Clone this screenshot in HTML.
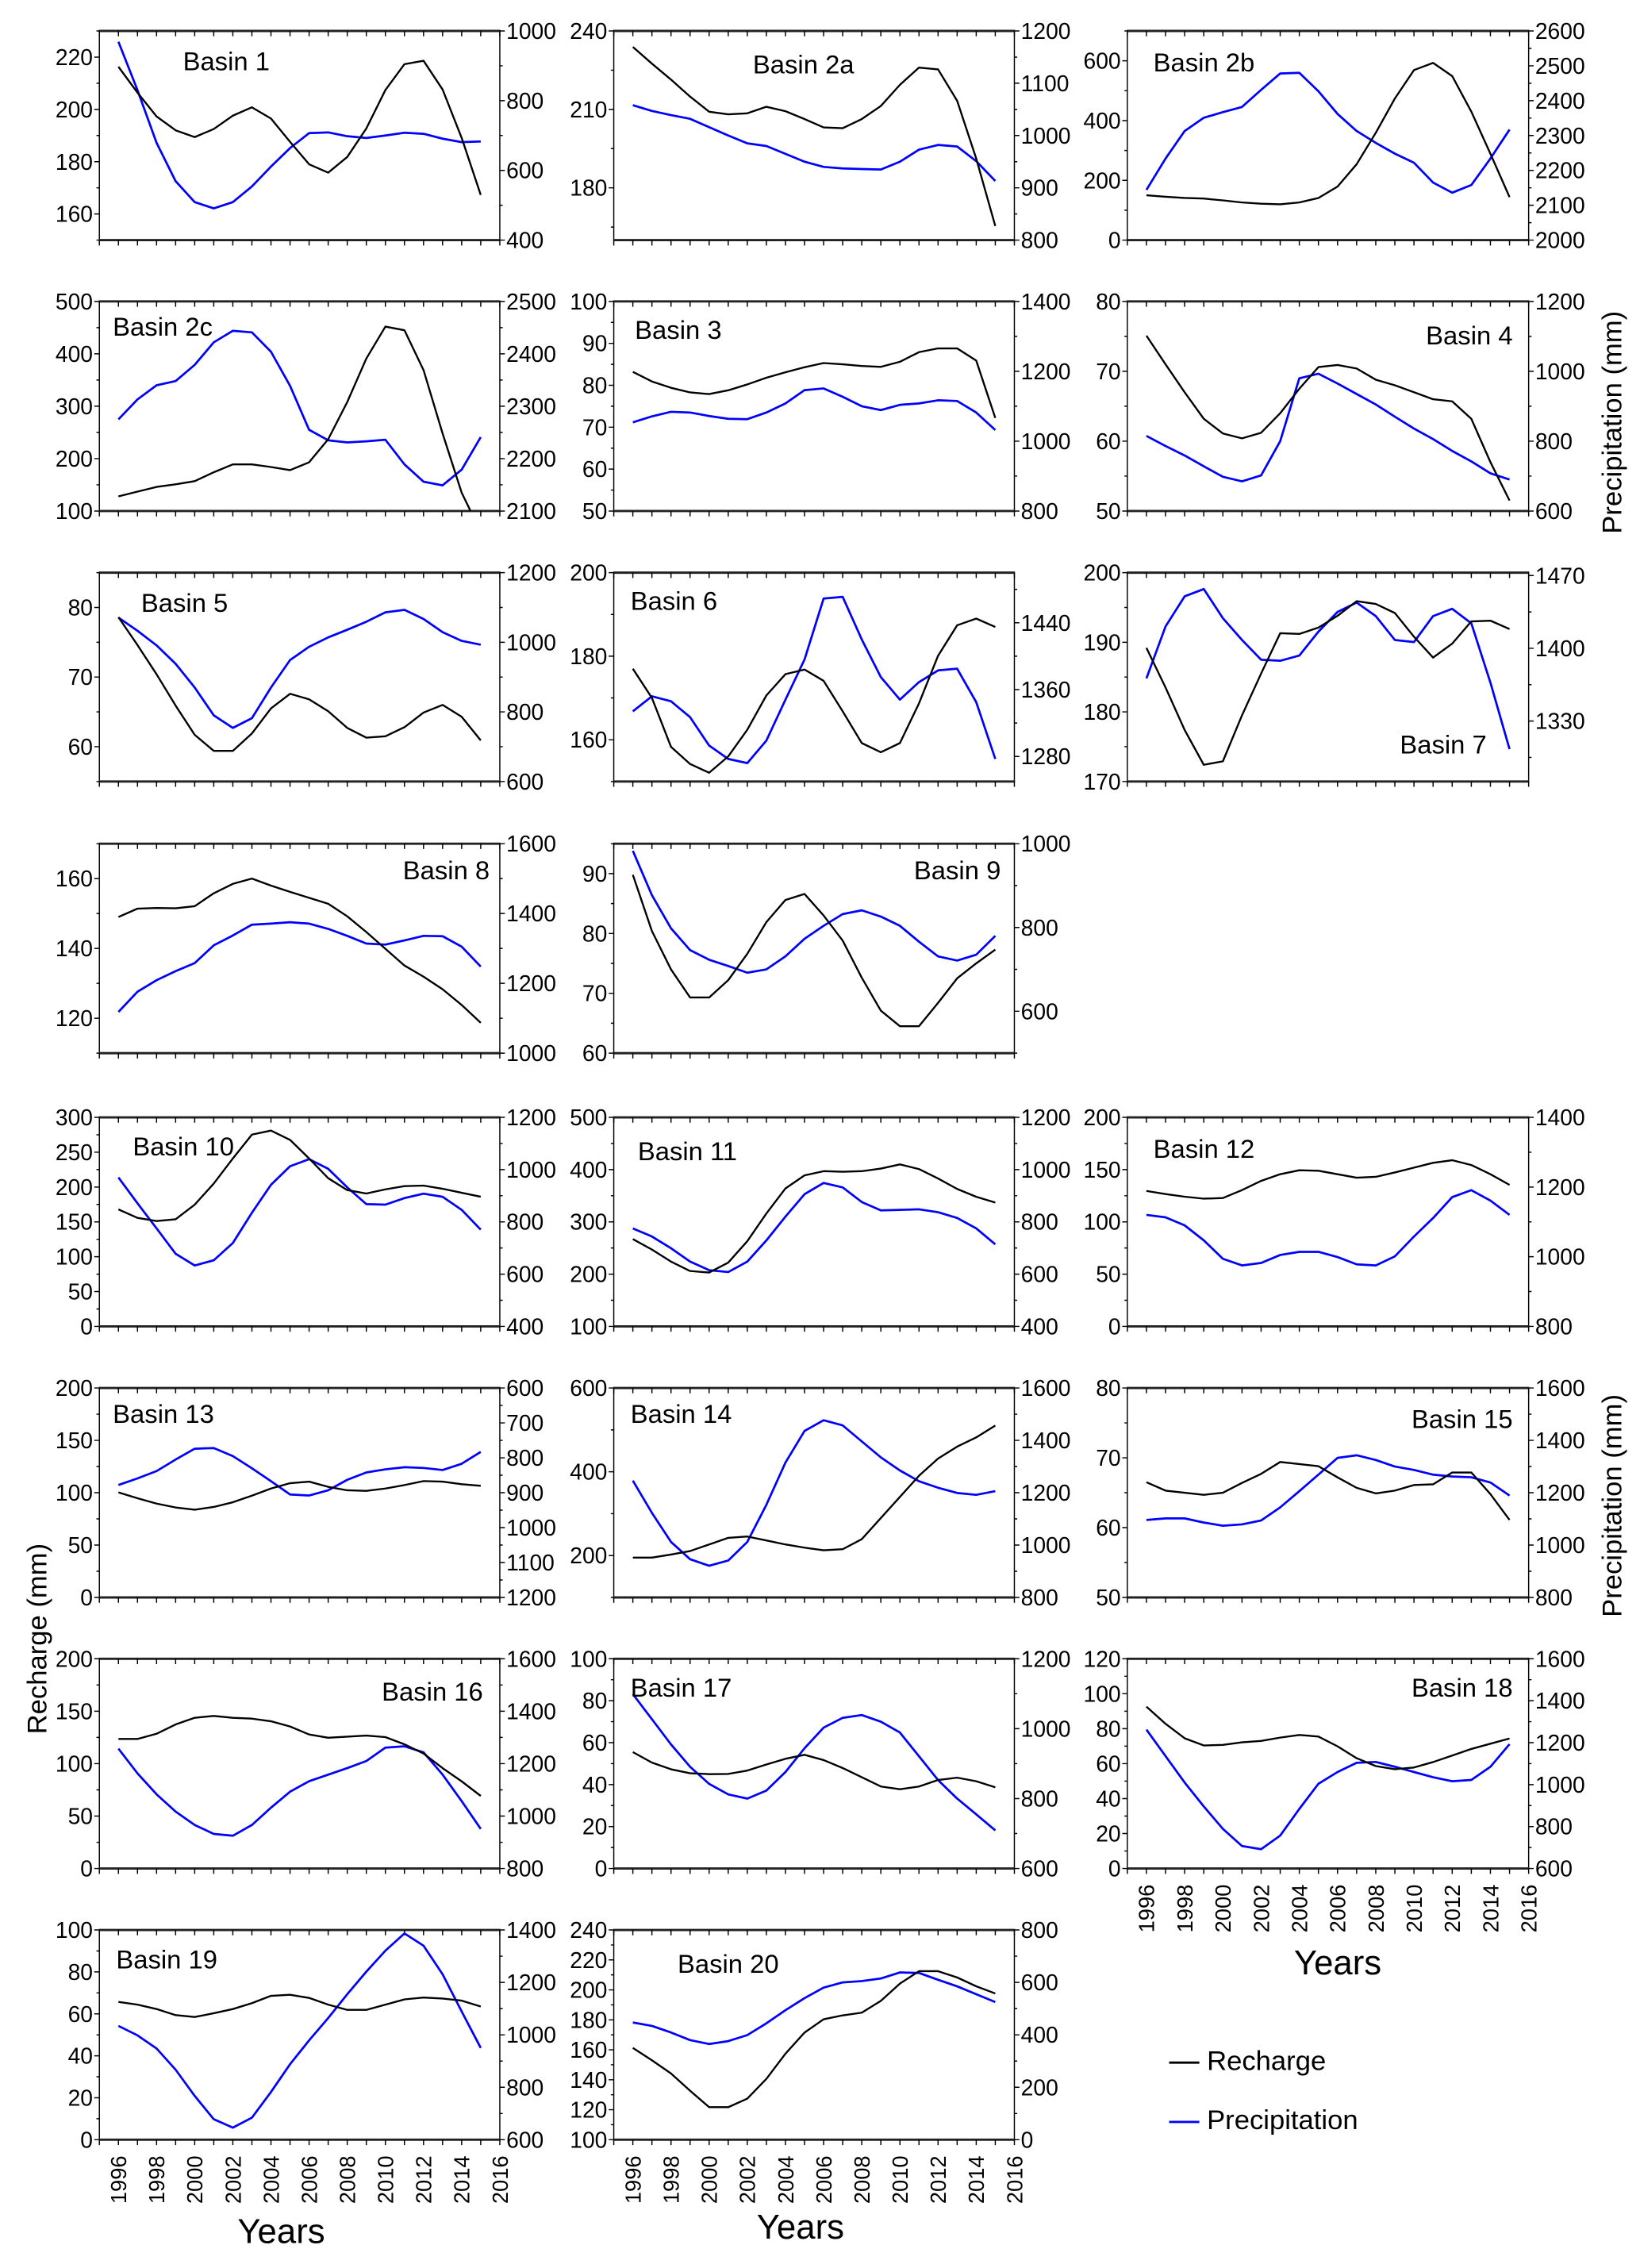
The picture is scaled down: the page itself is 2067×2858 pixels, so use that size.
<!DOCTYPE html>
<html><head><meta charset="utf-8"><title>Recharge and Precipitation by Basin</title>
<style>
html,body{margin:0;padding:0;background:#fff;}
svg{display:block;font-family:"Liberation Sans",Arial,sans-serif;}
</style></head>
<body>
<svg id="fig" xmlns="http://www.w3.org/2000/svg" width="2067" height="2858" viewBox="0 0 1134 1568" preserveAspectRatio="none">
<rect x="0" y="0" width="1134" height="1568" fill="#fff"/>
<text x="32" y="1133" font-size="19" text-anchor="middle" transform="rotate(-90 32 1133)">Recharge (mm)</text>
<text x="1121" y="292" font-size="19" text-anchor="middle" transform="rotate(-90 1121 292)">Precipitation (mm)</text>
<text x="1121" y="1041" font-size="19" text-anchor="middle" transform="rotate(-90 1121 1041)">Precipitation (mm)</text>
<text x="194.5" y="1550.6" font-size="24" text-anchor="middle">Years</text>
<text x="553.5" y="1547.8" font-size="24" text-anchor="middle">Years</text>
<text x="925" y="1365" font-size="24" text-anchor="middle">Years</text>
<g>
<line x1="808.4" y1="1426" x2="829.3" y2="1426" stroke="#000" stroke-width="1.6"/>
<text x="834.5" y="1431" font-size="19">Recharge</text>
<line x1="808.4" y1="1467" x2="829.3" y2="1467" stroke="#0000ff" stroke-width="1.6"/>
<text x="834.5" y="1472" font-size="19">Precipitation</text>
</g>
</svg>
<script>
const years = [1996,1997,1998,1999,2000,2001,2002,2003,2004,2005,2006,2007,2008,2009,2010,2011,2012,2013,2014,2015];
const xTickLabels = [1996,1998,2000,2002,2004,2006,2008,2010,2012,2014,2016];

const rech1 = [216.3,206.4,197.3,192,189.4,192.5,197.6,200.8,196.5,187.6,179,175.8,181.8,192.7,207.4,217.3,218.6,207.6,189.1,167.3];
const prec1 = [969,830,679,569,509,491,509,554,611,664,707,709,698,693,700,708,705,691,681,683];
const rech2a = [233.9,227.5,221.4,214.9,209.1,208.1,208.5,211,209.3,206.3,203.1,202.8,206.3,211.3,219.4,226,225.3,213.3,191.2,165.4];
const prec2a = [1058,1047,1039,1032,1016,1000,985,980,965,950,940,937,936,935,950,973,982,979,951,913];
const rech2b = [150,145,141,139,133,126,122,120,126,141,179,254,359,474,569,593,549,430,289,144];
const prec2b = [2144,2234,2313,2351,2367,2382,2431,2478,2480,2427,2362,2313,2279,2248,2222,2165,2136,2158,2234,2317];
const rech2c = [128,137,146,151,157,174,189,189,184,178,193,237,308,391,452,445,369,248,135,60];
const prec2c = [2275,2313,2340,2348,2379,2422,2444,2441,2404,2339,2255,2235,2231,2233,2236,2189,2156,2149,2179,2241];
const rech3 = [83.2,80.9,79.4,78.3,77.9,78.8,80.2,81.8,83.1,84.3,85.3,85,84.6,84.4,85.6,87.9,88.8,88.8,85.9,72.2];
const prec3 = [1054,1071,1084,1082,1072,1064,1063,1082,1108,1146,1151,1127,1100,1089,1104,1108,1117,1115,1082,1032];
const rech4 = [75.1,71,67,63.2,61.1,60.4,61.2,64,67.5,70.6,70.9,70.4,68.8,68,67,66,65.7,63.2,57,51.5];
const prec4 = [815,786,759,728,698,685,702,800,980,993,965,935,905,870,836,806,772,742,708,690];
const rech5 = [78.6,74.6,70.4,65.9,61.7,59.4,59.4,61.9,65.5,67.6,66.8,65.1,62.7,61.3,61.5,62.8,64.9,66,64.3,60.9];
const prec5 = [1071,1033,991,938,870,790,754,782,870,949,987,1014,1036,1059,1086,1093,1067,1029,1004,993];
const rech6 = [177,170,158.3,154.2,152.1,156,162.4,170.6,175.7,176.8,174.1,166.8,159.2,157,159.2,168.7,180.1,187.4,189,187];
const prec6 = [1334,1352,1346,1327,1293,1277,1272,1299,1348,1396,1469,1471,1420,1375,1348,1369,1383,1385,1345,1277];
const rech7 = [189.2,183.5,177.4,172.4,172.9,179.5,185.5,191.3,191.2,192.1,193.8,195.9,195.5,194.2,190.8,187.8,189.8,193,193.1,191.9];
const prec7 = [1371,1421,1450,1457,1429,1408,1389,1388,1393,1416,1435,1444,1431,1408,1406,1431,1438,1424,1367,1303];
const rech8 = [149,151.4,151.6,151.5,152.1,155.8,158.5,160,158,156.2,154.5,152.8,149.2,144.7,139.9,135.1,131.9,128.3,123.8,118.7];
const prec8 = [1118,1176,1209,1235,1258,1309,1337,1368,1371,1375,1371,1356,1336,1314,1311,1323,1336,1335,1305,1248];
const rech9 = [89.8,80.4,74,69.3,69.3,72.2,76.6,81.9,85.6,86.6,83,78.8,72.6,67.1,64.5,64.5,68.4,72.5,75,77.3];
const prec9 = [983,877,798,746,723,708,692,700,731,773,804,832,841,826,804,766,731,721,735,780];
const rech10 = [167.9,155.7,151.2,153.8,174.7,205,241,275.3,281,267.7,241,212.7,195.6,190.7,196.7,201.3,202.1,197.5,191.8,186.1];
const prec10 = [970,871,775,678,633,653,719,835,942,1013,1040,1003,932,868,866,891,908,896,846,770];
const rech11 = [267,247,224,206,203,222,263,316,364,389,397,396,397,402,410,401,383,363,348,337];
const prec11 = [775,744,699,648,615,608,648,729,820,906,949,932,876,844,846,848,837,815,775,714];
const rech12 = [129.6,126.6,124.1,122.2,122.8,130.4,139.2,145.6,149.4,148.9,145.6,142.3,143.1,147.3,151.9,156.5,159,154.4,145.6,135.4];
const prec12 = [1120,1113,1090,1047,994,975,982,1005,1014,1014,999,978,975,1001,1058,1111,1171,1191,1161,1120];
const rech13 = [100.3,94.7,89.6,85.9,83.8,86.4,90.9,97.2,104,109.1,110.6,105.6,102.3,101.8,104,107.3,111.1,110.6,108.1,106.6];
const prec13 = [878,859,838,805,774,772,795,830,867,905,908,893,863,842,833,827,829,835,817,783];
const rech14 = [195,195,202.5,210.7,226.5,242.3,245.4,236,226.5,218.9,212.6,215.1,239.1,289.6,340,390.5,431.5,460,482,510.4];
const prec14 = [1246,1123,1012,946,921,941,1012,1154,1315,1436,1477,1457,1396,1335,1285,1244,1219,1199,1192,1206];
const rech15 = [66.5,65.3,65,64.7,65,66.4,67.7,69.4,69.1,68.8,67.2,65.7,64.9,65.3,66.1,66.2,67.9,67.9,64.8,61.1];
const prec15 = [1096,1102,1102,1086,1074,1079,1094,1144,1206,1269,1333,1343,1325,1300,1287,1269,1262,1259,1239,1189];
const rech16 = [123.5,123.5,128.5,137.4,143.7,145.5,143.7,142.9,140.4,135.4,127.8,124.7,125.7,126.8,125.3,118.4,109.6,95.7,83.1,69.2];
const prec16 = [1257,1163,1083,1017,966,932,925,966,1032,1093,1133,1158,1183,1210,1261,1266,1243,1158,1057,951];
const rech17 = [55.5,50.5,47.3,45.4,45,45.1,46.7,49.6,52.3,54.2,51.7,47.9,43.5,39.1,37.8,39.1,42.2,43.3,41.6,38.7];
const prec17 = [1099,1027,955,891,842,812,800,823,876,944,1003,1031,1039,1020,989,921,853,800,755,709];
const rech18 = [92.6,82.8,74.5,70.4,70.7,72.2,73,74.9,76.4,75.5,69.9,63.1,58.6,56.8,57.8,60.9,64.6,68.4,71.4,74.4];
const prec18 = [1262,1136,1010,896,789,707,692,757,884,1004,1060,1104,1108,1085,1060,1035,1016,1022,1085,1193];
const rech19 = [65.7,64.4,62.3,59.4,58.5,60.3,62.3,65.1,68.6,69.1,67.6,64.4,61.9,61.9,64.4,66.9,67.8,67.3,66.3,63.5];
const prec19 = [1034,998,948,867,767,678,646,684,782,888,979,1064,1155,1241,1321,1387,1340,1231,1089,950];
const rech20 = [161.3,153,144.2,132.7,121.7,121.7,127.4,140.6,157.4,171.5,180.4,183,184.8,192.7,204.2,212.5,212.5,208.3,202.4,197.6];
const prec20 = [447,434,409,380,365,376,399,444,494,540,580,600,605,615,638,636,610,585,555,525];

const C1=[68.7,345.6], C2=[424.4,701.4], C3=[779.5,1057];
const R1=[21.4,166], R2=[208.4,353.3], R3=[395.9,540.3], R4=[583.3,728.1], R5=[772.5,917], R6=[959.6,1104.4], R7=[1146.8,1291.8], R8=[1334.3,1479.3];

const panels = [
 {id:'1',col:C1,row:R1,l:[150,230],lt:[160,180,200,220],lm:10,r:[400,1000],rt:[400,600,800,1000],rm:100,rech:rech1,prec:prec1,t:[126.5,48.5,'start']},
 {id:'2a',col:C2,row:R1,l:[160,240],lt:[180,210,240],lm:15,r:[800,1200],rt:[800,900,1000,1100,1200],rm:50,rech:rech2a,prec:prec2a,t:[520.6,50.8,'start']},
 {id:'2b',col:C3,row:R1,l:[0,700],lt:[0,200,400,600],lm:100,r:[2000,2600],rt:[2000,2100,2200,2300,2400,2500,2600],rm:50,rech:rech2b,prec:prec2b,t:[797.5,49.4,'start']},
 {id:'2c',col:C1,row:R2,l:[100,500],lt:[100,200,300,400,500],lm:50,r:[2100,2500],rt:[2100,2200,2300,2400,2500],rm:50,rech:rech2c,prec:prec2c,t:[78,232,'start']},
 {id:'3',col:C2,row:R2,l:[50,100],lt:[50,60,70,80,90,100],lm:5,r:[800,1400],rt:[800,1000,1200,1400],rm:100,rech:rech3,prec:prec3,t:[439,234.4,'start']},
 {id:'4',col:C3,row:R2,l:[50,80],lt:[50,60,70,80],lm:5,r:[600,1200],rt:[600,800,1000,1200],rm:100,rech:rech4,prec:prec4,t:[1046,238.2,'end']},
 {id:'5',col:C1,row:R3,l:[55,85],lt:[60,70,80],lm:5,r:[600,1200],rt:[600,800,1000,1200],rm:100,rech:rech5,prec:prec5,t:[97.6,423,'start']},
 {id:'6',col:C2,row:R3,l:[150,200],lt:[160,180,200],lm:10,r:[1250,1500],rt:[1280,1360,1440],rm:40,rech:rech6,prec:prec6,t:[436,421.5,'start']},
 {id:'7',col:C3,row:R3,l:[170,200],lt:[170,180,190,200],lm:5,r:[1271.8,1472.8],rt:[1330,1400,1470],rm:35,rech:rech7,prec:prec7,t:[1028,520.8,'end']},
 {id:'8',col:C1,row:R4,l:[110,170],lt:[120,140,160],lm:10,r:[1000,1600],rt:[1000,1200,1400,1600],rm:100,rech:rech8,prec:prec8,t:[338.6,608,'end']},
 {id:'9',col:C2,row:R4,l:[60,95],lt:[60,70,80,90],lm:5,r:[500,1000],rt:[600,800,1000],rm:100,rech:rech9,prec:prec9,t:[692,608,'end']},
 {id:'10',col:C1,row:R5,l:[0,300],lt:[0,50,100,150,200,250,300],lm:25,r:[400,1200],rt:[400,600,800,1000,1200],rm:100,rech:rech10,prec:prec10,t:[91.8,798.7,'start']},
 {id:'11',col:C2,row:R5,l:[100,500],lt:[100,200,300,400,500],lm:50,r:[400,1200],rt:[400,600,800,1000,1200],rm:100,rech:rech11,prec:prec11,t:[441,802,'start']},
 {id:'12',col:C3,row:R5,l:[0,200],lt:[0,50,100,150,200],lm:25,r:[800,1400],rt:[800,1000,1200,1400],rm:100,rech:rech12,prec:prec12,t:[797.5,800.5,'start']},
 {id:'13',col:C1,row:R6,l:[0,200],lt:[0,50,100,150,200],lm:25,r:[1200,600],rt:[600,700,800,900,1000,1100,1200],rm:50,rech:rech13,prec:prec13,t:[78,983.7,'start']},
 {id:'14',col:C2,row:R6,l:[100,600],lt:[200,400,600],lm:100,r:[800,1600],rt:[800,1000,1200,1400,1600],rm:100,rech:rech14,prec:prec14,t:[436,983.7,'start']},
 {id:'15',col:C3,row:R6,l:[50,80],lt:[50,60,70,80],lm:5,r:[800,1600],rt:[800,1000,1200,1400,1600],rm:100,rech:rech15,prec:prec15,t:[1046,987.4,'end']},
 {id:'16',col:C1,row:R7,l:[0,200],lt:[0,50,100,150,200],lm:25,r:[800,1600],rt:[800,1000,1200,1400,1600],rm:100,rech:rech16,prec:prec16,t:[334,1175.7,'end']},
 {id:'17',col:C2,row:R7,l:[0,100],lt:[0,20,40,60,80,100],lm:10,r:[600,1200],rt:[600,800,1000,1200],rm:100,rech:rech17,prec:prec17,t:[436,1173,'start']},
 {id:'18',col:C3,row:R7,l:[0,120],lt:[0,20,40,60,80,100,120],lm:10,r:[600,1600],rt:[600,800,1000,1200,1400,1600],rm:100,rech:rech18,prec:prec18,t:[1046,1173,'end'],xl:true},
 {id:'19',col:C1,row:R8,l:[0,100],lt:[0,20,40,60,80,100],lm:10,r:[600,1400],rt:[600,800,1000,1200,1400],rm:100,rech:rech19,prec:prec19,t:[80.3,1361,'start'],xl:true},
 {id:'20',col:C2,row:R8,l:[100,240],lt:[100,120,140,160,180,200,220,240],lm:10,r:[0,800],rt:[0,200,400,600,800],rm:100,rech:rech20,prec:prec20,t:[468.5,1364,'start'],xl:true}
];

const NS='http://www.w3.org/2000/svg';
const svg=document.getElementById('fig');
function mk(tag,attrs,parent){const e=document.createElementNS(NS,tag);for(const k in attrs)e.setAttribute(k,attrs[k]);(parent||svg).appendChild(e);return e;}
function fmt(v){return String(Math.round(v*100)/100);}

panels.forEach(function(p){
  const x0=p.col[0],x1=p.col[1],y0=p.row[0],y1=p.row[1];
  const xs=function(yr){return x0+(yr-1995)/21*(x1-x0);};
  const yl=function(v){return y1-(v-p.l[0])/(p.l[1]-p.l[0])*(y1-y0);};
  const yr=function(v){return y1-(v-p.r[0])/(p.r[1]-p.r[0])*(y1-y0);};
  const g=mk('g',{});
  
  
  const cp=mk('clipPath',{id:'clip'+p.id},g);
  mk('rect',{x:x0,y:y0,width:x1-x0,height:y1-y0},cp);

  const lb=mk('line',{x1:x0,y1:y0,x2:x0,y2:y1,stroke:'#000','stroke-width':0.8},g);
  
  
  const rb=mk('line',{x1:x1,y1:y0,x2:x1,y2:y1,stroke:'#000','stroke-width':0.8},g);
  
  
  const tb=mk('line',{x1:x0-0.4,y1:y0,x2:x1+0.4,y2:y0,stroke:'#222','stroke-width':1.6},g);
  
  
  const bb=mk('line',{x1:x0-0.4,y1:y1,x2:x1+0.4,y2:y1,stroke:'#222','stroke-width':1.6},g);
  
  

  let d='';
  for(let yy=1995;yy<=2016;yy++){
    const x=xs(yy);
    d+='M'+fmt(x)+' '+fmt(y0)+'V'+fmt(y0+3.7);
    d+='M'+fmt(x)+' '+fmt(y1)+'V'+fmt(y1+3.7);
  }
  p.lt.forEach(function(v){d+='M'+fmt(x0)+' '+fmt(yl(v))+'H'+fmt(x0-3.5);});
  for(let v=p.lt[0]-p.lm;v<=p.l[1]+1e-9;v+=p.lm){ if(v>=p.l[0]-1e-9 && p.lt.indexOf(Math.round(v*1000)/1000)<0){d+='M'+fmt(x0)+' '+fmt(yl(v))+'H'+fmt(x0-2);} }
  const rlo=Math.min(p.r[0],p.r[1]),rhi=Math.max(p.r[0],p.r[1]);
  p.rt.forEach(function(v){d+='M'+fmt(x1)+' '+fmt(yr(v))+'H'+fmt(x1+3.5);});
  for(let v=p.rt[0]-p.rm;v<=rhi+1e-9;v+=p.rm){ if(v>=rlo-1e-9 && p.rt.indexOf(Math.round(v*1000)/1000)<0){d+='M'+fmt(x1)+' '+fmt(yr(v))+'H'+fmt(x1+2);} }
  const ticks=mk('path',{d:d,stroke:'#000','stroke-width':0.8,fill:'none'},g);
  
  

  p.lt.forEach(function(v){
    const t=mk('text',{x:fmt(x0-4.5),y:fmt(yl(v)+5.5),'font-size':15.5,'text-anchor':'end'},g);
    t.textContent=String(v);
    
    
  });
  p.rt.forEach(function(v){
    const t=mk('text',{x:fmt(x1+4.5),y:fmt(yr(v)+5.5),'font-size':15.5,'text-anchor':'start'},g);
    t.textContent=String(v);
    
    
  });
  if(p.xl){
    xTickLabels.forEach(function(yv){
      const x=xs(yv)+5.4, y=y1+11;
      const t=mk('text',{x:fmt(x),y:fmt(y),'font-size':15,'text-anchor':'end',transform:'rotate(-90 '+fmt(x)+' '+fmt(y)+')'},g);
      t.textContent=String(yv);
      
      
    });
  }

  const blueD=years.map(function(yv,i){return (i?'L':'M')+fmt(xs(yv))+' '+fmt(yr(p.prec[i]));}).join('');
  const bl=mk('path',{d:blueD,stroke:'#0000ff','stroke-width':1.5,fill:'none','stroke-linejoin':'round','clip-path':'url(#clip'+p.id+')'},g);
  
  
  const blackD=years.map(function(yv,i){return (i?'L':'M')+fmt(xs(yv))+' '+fmt(yl(p.rech[i]));}).join('');
  const kl=mk('path',{d:blackD,stroke:'#000','stroke-width':1.3,fill:'none','stroke-linejoin':'round','clip-path':'url(#clip'+p.id+')'},g);
  
  

  const tt=mk('text',{x:p.t[0],y:p.t[1],'font-size':18,'text-anchor':p.t[2]},g);
  tt.textContent='Basin '+p.id;
  
  
});
</script>
</body></html>
